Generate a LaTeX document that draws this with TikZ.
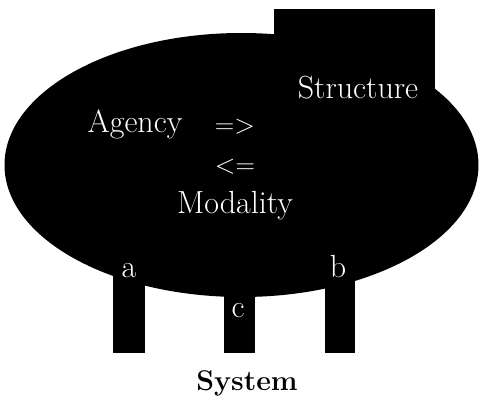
\documentclass[tikz,border=0pt]{standalone}
\begin{document}
\begin{tikzpicture}[x=1pt,y=-1pt,
  lbl/.style={text=white,anchor=base,inner sep=0pt,font=\fontsize{32}{38}\selectfont},
  arr/.style={text=white,anchor=base,inner sep=0pt,font=\fontsize{27}{32}\selectfont},
  leg/.style={fill=black}]
\useasboundingbox (0,0) rectangle (483,402);
\fill[black] (241.5,165) ellipse [x radius=237, y radius=132];
\fill[black] (274,9) rectangle (435,120);
\fill[leg] (113,250) rectangle (145,353);
\fill[leg] (224,250) rectangle (255,353);
\fill[leg] (325,250) rectangle (355,353);
\node[lbl] (structure) at (358,98) {Structure};
\node[lbl] (agency) at (135,132) {Agency};
\node[arr] (to) at (235,133) {=>};
\node[arr] (from) at (235,173) {<=};
\node[lbl] (modality) at (235,213) {Modality};
\node[lbl] (a) at (129,277) {a};
\node[lbl] (b) at (338,277) {b};
\node[lbl] (c) at (238,317) {c};
\node[anchor=base,inner sep=0pt,font=\fontsize{28.5}{34}\selectfont\bfseries] (system) at (247,390) {System};
\end{tikzpicture}
\end{document}
